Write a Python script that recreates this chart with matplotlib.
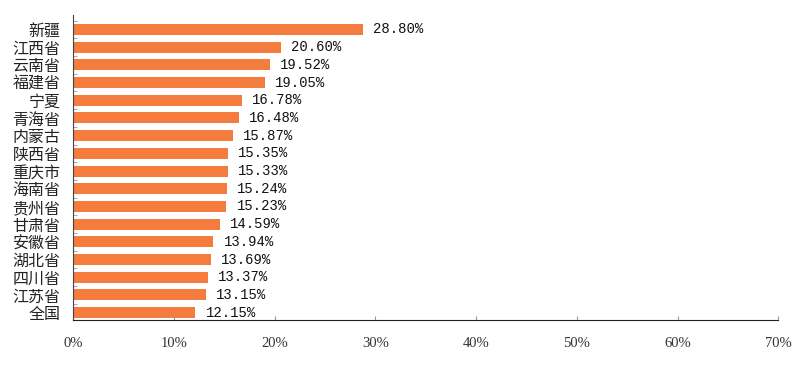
import matplotlib.pyplot as plt
import numpy as np

plt.rcParams['font.family'] = ['Noto Sans CJK SC', 'DejaVu Sans']

regions = ['新疆', '江西省', '云南省', '福建省', '宁夏', '青海省', '内蒙古', '陕西省',
           '重庆市', '海南省', '贵州省', '甘肃省', '安徽省', '湖北省', '四川省', '江苏省', '全国']
values = [28.80, 20.60, 19.52, 19.05, 16.78, 16.48, 15.87, 15.35,
          15.33, 15.24, 15.23, 14.59, 13.94, 13.69, 13.37, 13.15, 12.15]
xticks = [0, 10, 20, 30, 40, 50, 60, 70]

fig = plt.figure(figsize=(7.98, 3.70), dpi=100)
ax = fig.add_axes([0.0915, 0.135, 0.884, 0.8245])

y = np.arange(len(regions))[::-1]
ax.barh(y, values, height=0.62, color='#F47C3E')

for yi, v in zip(y, values):
    ax.text(v + 1.0, yi, f'{v:.2f}%', va='center', ha='left', fontsize=10,
            family='Liberation Mono', color='#111111')

ax.set_xlim(0, 70)
ax.set_ylim(-0.42, len(regions) - 0.18)
ax.set_xticks(xticks)
ax.set_xticklabels([f'{t}%' for t in xticks], fontsize=10.5, family='Liberation Serif', color='#333333')
ax.set_yticks(y)
ax.set_yticklabels(regions, fontsize=11.5, color='#222222')
ax.set_yticks(np.arange(len(regions)) + 0.5, minor=True)

ax.spines['top'].set_visible(False)
ax.spines['right'].set_visible(False)
ax.spines['left'].set_color('#444444')
ax.spines['bottom'].set_color('#222222')
ax.tick_params(axis='x', direction='in', length=3, pad=12, color='#999999')
ax.tick_params(axis='y', which='major', length=0, pad=9)
ax.tick_params(axis='y', which='minor', direction='in', length=3, color='#999999')

fig.savefig('out.png', dpi=100)
